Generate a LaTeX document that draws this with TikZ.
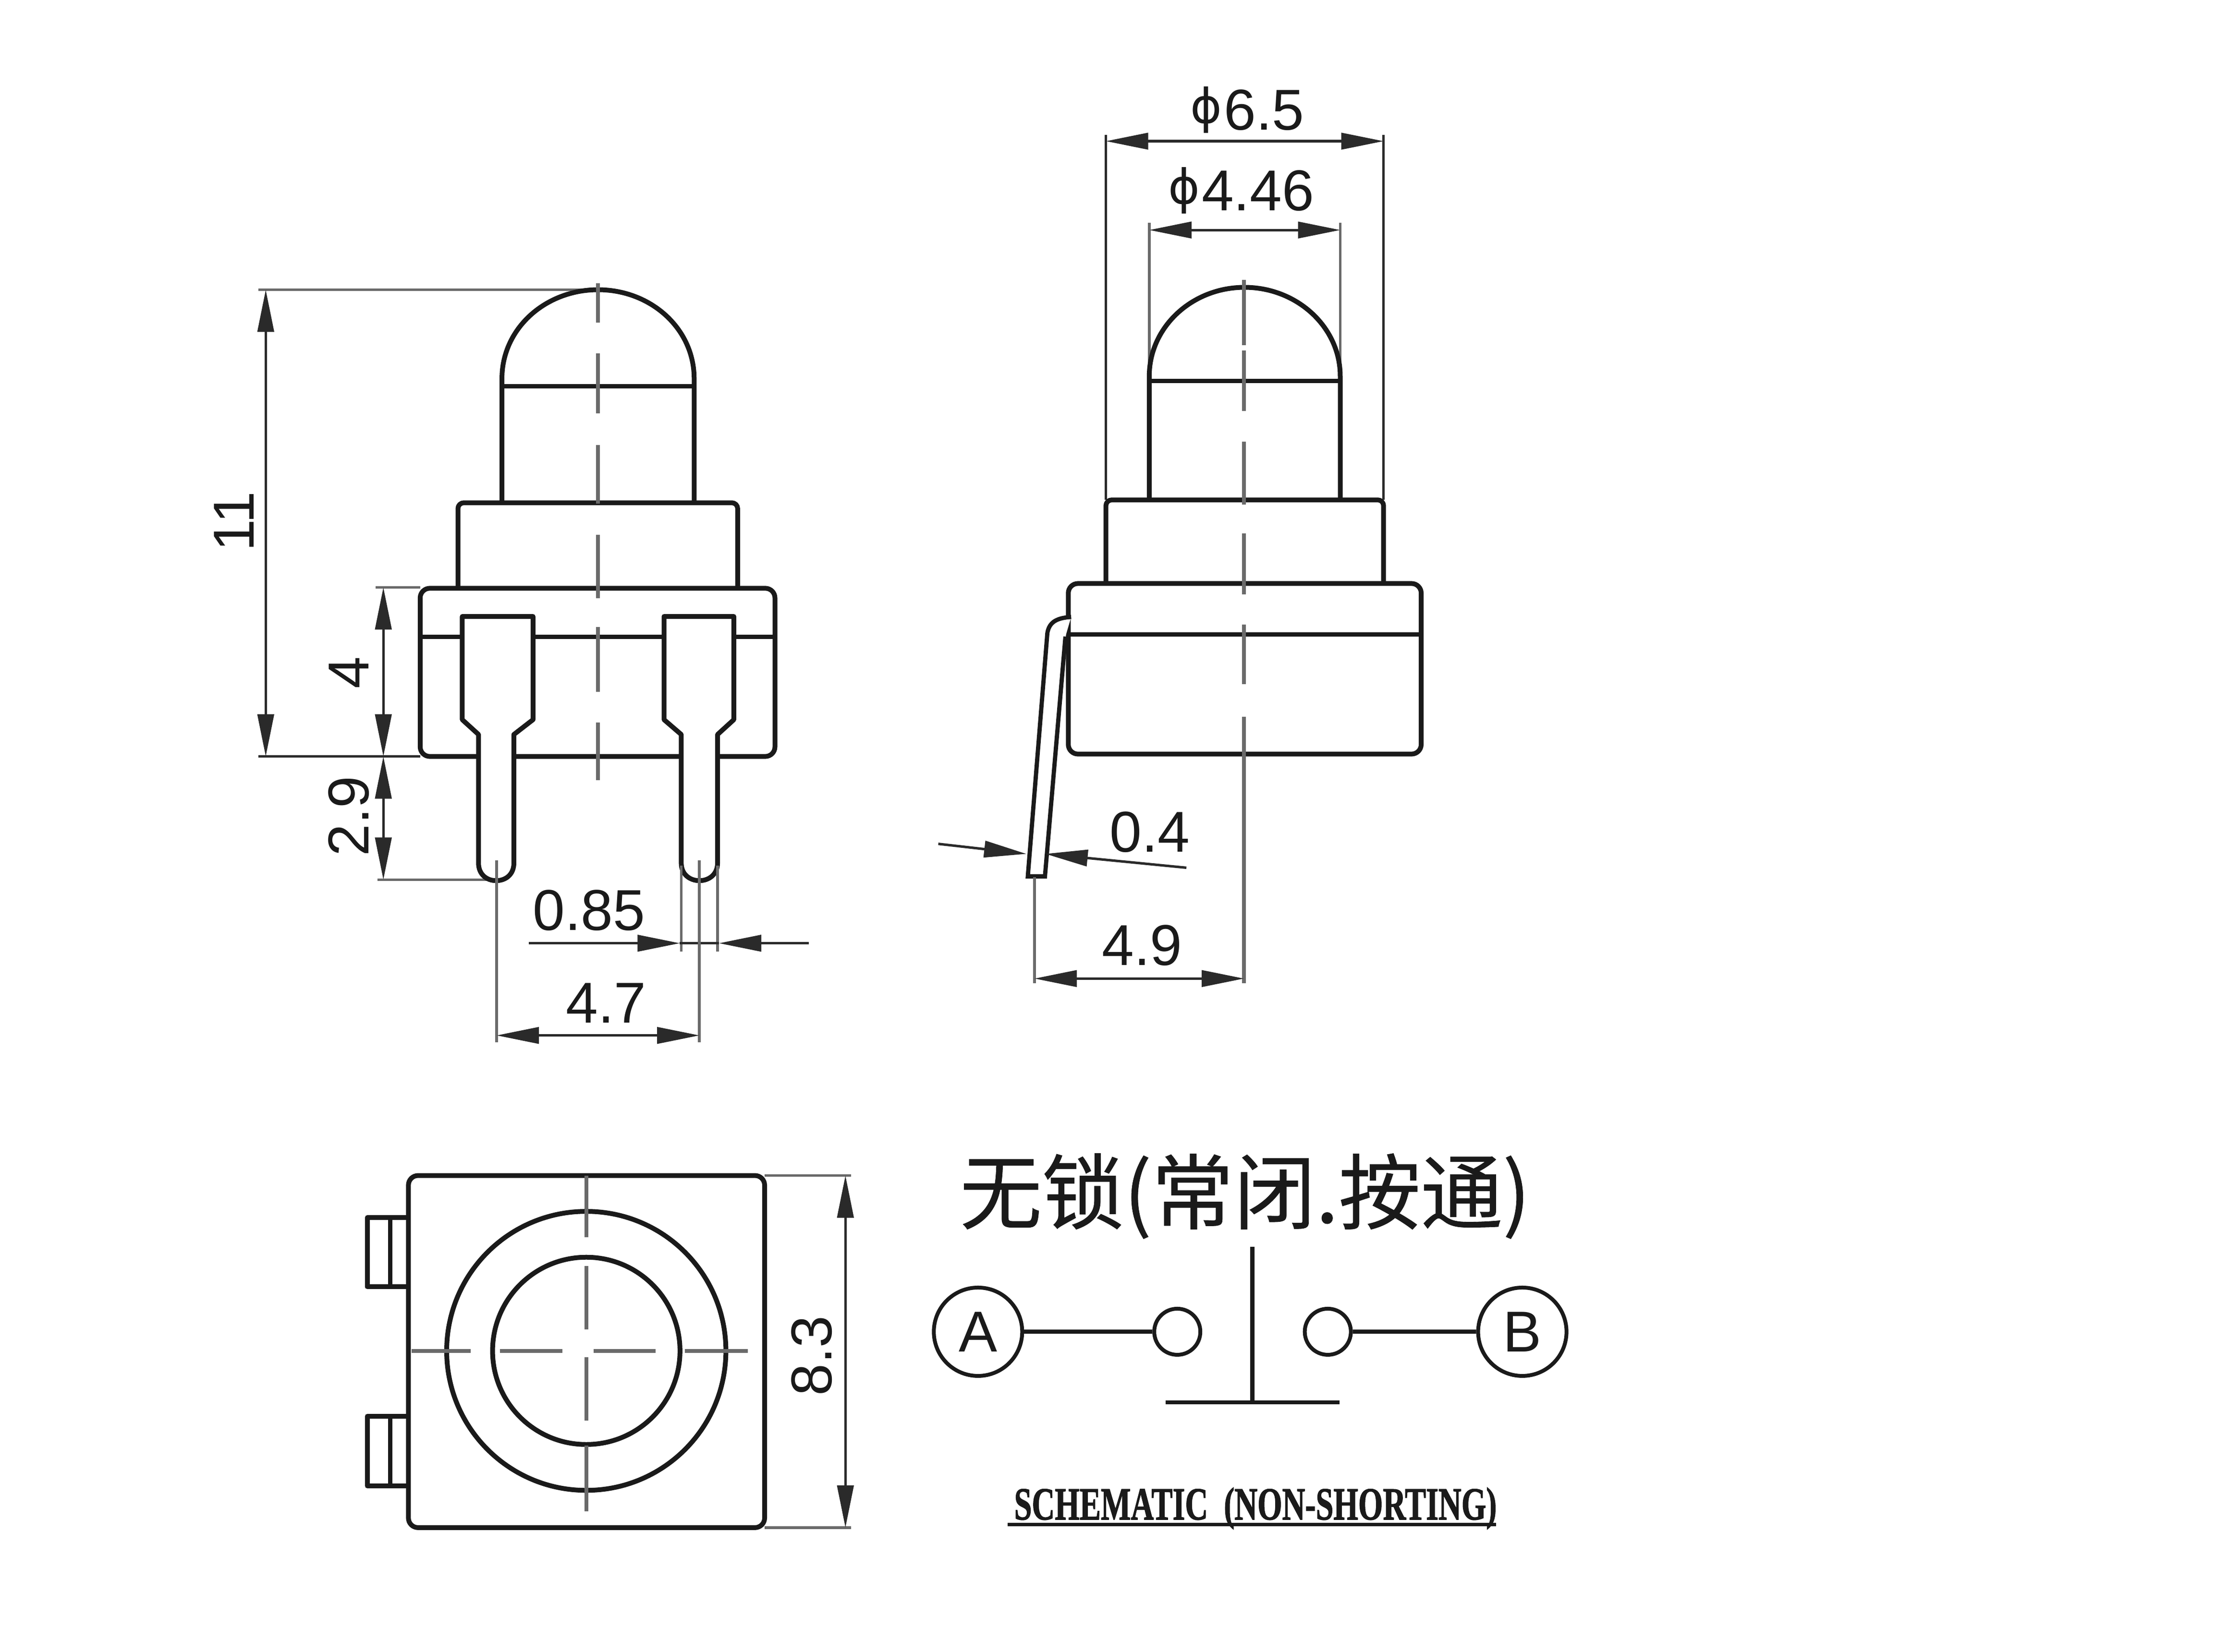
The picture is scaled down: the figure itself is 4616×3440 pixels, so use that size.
\documentclass[tikz,border=0pt]{standalone}
\usepackage{fontspec}
\setmainfont{Liberation Sans}
\newfontfamily\cjkfont[FakeBold=0.5]{Noto Sans CJK SC}
\newfontfamily\capsfont[BoldFeatures={FakeBold=1.5}]{Liberation Serif}
\newfontfamily\phifont{DejaVu Sans}
\usetikzlibrary{arrows.meta}
\definecolor{ink}{HTML}{1A1A1A}
\definecolor{dimink}{HTML}{2A2A2A}
\definecolor{axisink}{HTML}{6A6A6A}
\newcommand{\dimfont}{\fontsize{30pt}{31pt}\selectfont}
\newcommand{\dia}{\raisebox{3.5pt}{\phifont\fontsize{25pt}{26pt}\selectfont ϕ}\kern1pt}
\tikzset{
  outline/.style={draw=ink,line width=2.5pt,line join=round},
  thinoutline/.style={draw=ink,line width=2.2pt},
  dimline/.style={draw=dimink,line width=1.3pt},
  extline/.style={draw=axisink,line width=1.4pt},
  axisline/.style={draw=axisink,line width=1.9pt},
  bothtips/.style={{Triangle[length=22pt,width=8.5pt]}-{Triangle[length=22pt,width=8.5pt]}},
  endtip/.style={-{Triangle[length=22pt,width=8.5pt]}},
  dimtext/.style={inner sep=0pt,text=ink,font=\dimfont},
  wire/.style={draw=ink,line width=2.2pt},
  terminal/.style={circle,draw=ink,line width=2pt,inner sep=0pt,text=ink,font=\dimfont}
}
\begin{document}
\begin{tikzpicture}[x=0.25pt,y=-0.25pt]
\useasboundingbox[fill=white] (0,0) rectangle (4616,3440);

% ---------- front view ----------
\begin{scope}[shift={(1.8,2.5)},xscale=0.9955,yscale=0.995]
\draw[extline] (539,604) -- (1249,604);
\draw[dimline] (539,1581) -- (877,1581);
\draw[extline] (784,1227) -- (877,1227);
\draw[extline] (788,1839) -- (1020,1839);
\draw[outline] (1048,1048) -- (1048,790) .. controls (1048,685) and (1139,604) .. (1249,604) .. controls (1359,604) and (1450,685) .. (1450,790) -- (1450,1048);
\draw[thinoutline] (1048,806) -- (1450,806);
\draw[outline,rounded corners=3pt] (956,1227) -- (956,1050) -- (1541,1050) -- (1541,1227);
\draw[outline,rounded corners=5pt] (877,1229) rectangle (1619,1581);
\draw[thinoutline] (877,1331) -- (1619,1331);
\draw[outline,fill=white] (965,1288) -- (1113,1288) -- (1113,1504) -- (1073,1535) -- (1073,1804) .. controls (1073,1828) and (1056,1841) .. (1036,1841) .. controls (1016,1841) and (999,1828) .. (999,1804) -- (999,1535) -- (965,1504) -- cycle;
\draw[outline,fill=white] (1387,1288) -- (1533,1288) -- (1533,1504) -- (1499,1535) -- (1499,1804) .. controls (1499,1828) and (1481,1841) .. (1461,1841) .. controls (1441,1841) and (1423,1828) .. (1423,1804) -- (1423,1535) -- (1387,1504) -- cycle;
\draw[axisline] (1249,590) -- (1249,673) (1249,737) -- (1249,863) (1249,929) -- (1249,1052) (1249,1117) -- (1249,1250) (1249,1310) -- (1249,1446) (1249,1510) -- (1249,1631);

\draw[dimline,bothtips] (554,604) -- (554,1581);
\draw[dimline,bothtips] (800,1227) -- (800,1581);
\draw[dimline,bothtips] (800,1581) -- (800,1839);
\draw[extline] (1423,1810) -- (1423,1989);
\draw[extline] (1499,1810) -- (1499,1989);
\draw[dimline,endtip] (1104,1972) -- (1420,1972);
\draw[dimline,endtip] (1690,1972) -- (1502,1972);
\draw[dimline] (1420,1972) -- (1502,1972);
\draw[extline] (1037,1798) -- (1037,2179);
\draw[extline] (1461,1798) -- (1461,2179);
\draw[dimline,bothtips] (1037,2165) -- (1461,2165);
\node[dimtext,rotate=90] (d11) at (488,1089) {11};
\node[dimtext,rotate=90] (d4) at (728,1406) {4};
\node[dimtext,rotate=90] (d29) at (728,1706) {2.9};
\node[dimtext] (d085) at (1230,1903) {0.85};
\node[dimtext] (d47) at (1266,2097) {4.7};
\end{scope}

% ---------- side view ----------
\begin{scope}[shift={(16,0.5)},xscale=0.9916,yscale=0.995]
\draw[extline] (2397,466) -- (2397,790);
\draw[extline] (2798,466) -- (2798,790);
\draw[dimline] (2306,282) -- (2306,1046);
\draw[dimline] (2889,282) -- (2889,1046);
\draw[outline] (2397,1042) -- (2397,787) .. controls (2397,684) and (2487,601) .. (2597,601) .. controls (2707,601) and (2798,684) .. (2798,787) -- (2798,1042);
\draw[thinoutline] (2397,797) -- (2798,797);
\draw[outline,rounded corners=3pt] (2306,1221) -- (2306,1046) -- (2889,1046) -- (2889,1221);
\draw[outline,rounded corners=5pt] (2227,1221) rectangle (2968,1578);
\draw[thinoutline] (2227,1328) -- (2968,1328);
\draw[thinoutline,fill=white] (2233,1291) .. controls (2205,1293) and (2187,1300) .. (2183,1325) -- (2142,1834) -- (2178,1834) -- (2221,1332);
\draw[axisline] (2596,585) -- (2596,722) (2596,733) -- (2596,860) (2596,924) -- (2596,1056) (2596,1116) -- (2596,1244) (2596,1307) -- (2596,1432) (2596,1500) -- (2596,2058);

\draw[dimline,bothtips] (2306,295) -- (2889,295);
\draw[dimline,bothtips] (2397,481) -- (2798,481);
\draw[dimline,endtip] (1954,1766) -- (2139,1787);
\draw[dimline,endtip] (2475,1816) -- (2179,1787);
\draw[extline] (2156,1836) -- (2156,2058);
\draw[dimline,bothtips] (2156,2048) -- (2596,2048);
\node[dimtext] (d04) at (2398,1741) {0.4};
\node[dimtext] (d49) at (2382,1979) {4.9};
\end{scope}
\node[dimtext,anchor=base] (d65) at (2597,270) {\dia 6.5};
\node[dimtext,anchor=base] (d446) at (2584,438) {\dia 4.46};

% ---------- top view ----------
\begin{scope}[shift={(3.2,11.8)},xscale=0.9955,yscale=0.995]
\draw[outline,fill=white] (851,2537) -- (765,2537) -- (765,2682) -- (851,2682);
\draw[thinoutline] (813,2537) -- (813,2682);
\draw[outline,fill=white] (851,2953) -- (765,2953) -- (765,3099) -- (851,3099);
\draw[thinoutline] (813,2953) -- (813,3099);
\draw[outline,rounded corners=5pt] (851,2449) rectangle (1596,3186);
\draw[outline] (1223,2816) circle[radius=292*0.25pt];
\draw[outline] (1223,2816) circle[radius=196*0.25pt];
\draw[axisline] (1223,2449) -- (1223,2578) (1223,2638) -- (1223,2771) (1223,2829) -- (1223,2962) (1223,3014) -- (1223,3152);
\draw[axisline] (858,2816) -- (981,2816) (1042,2816) -- (1173,2816) (1238,2816) -- (1368,2816) (1429,2816) -- (1561,2816);
\draw[extline] (1596,2449) -- (1777,2449);
\draw[extline] (1596,3186) -- (1777,3186);
\draw[dimline,bothtips] (1765,2449) -- (1765,3186);
\node[dimtext,rotate=90] (d83) at (1695,2826) {8.3};
\end{scope}

% ---------- schematic ----------
\begin{scope}[shift={(9.5,11.8)},xscale=0.995,yscale=0.995]
\node[inner sep=0pt,text=ink,font=\cjkfont\fontsize{42.7pt}{44pt}\selectfont] (title) at (2596,2492) {无锁(常闭.按通)};
\node[terminal,minimum size=46pt] (A) at (2037,2776) {A};
\node[terminal,minimum size=46pt] (B) at (3176,2776) {B};
\node[circle,draw=ink,line width=2pt,inner sep=0pt,minimum size=24pt] (a) at (2454,2776) {};
\node[circle,draw=ink,line width=2pt,inner sep=0pt,minimum size=24pt] (b) at (2769,2776) {};
\draw[wire] (A) -- (a);
\draw[wire] (b) -- (B);
\coordinate (stemtop) at (2611,2598);
\coordinate (stembase) at (2611,2924);
\coordinate (barleft) at (2430,2924);
\coordinate (barright) at (2794,2924);
\draw[wire] (stemtop) -- (stembase);
\draw[wire] (barleft) -- (barright);
\end{scope}
\node[inner sep=0pt,anchor=base,text=ink,font=\capsfont\bfseries\fontsize{24pt}{25pt}\selectfont] (caption) at (2614,3165) {\scalebox{0.69}[1]{SCHEMATIC\ \ (NON-SHORTING)}};
\coordinate (ruleleft) at (2098,3175);
\coordinate (ruleright) at (3115,3175);
\draw[draw=ink,line width=1.75pt] (ruleleft) -- (ruleright);
\end{tikzpicture}
\end{document}
